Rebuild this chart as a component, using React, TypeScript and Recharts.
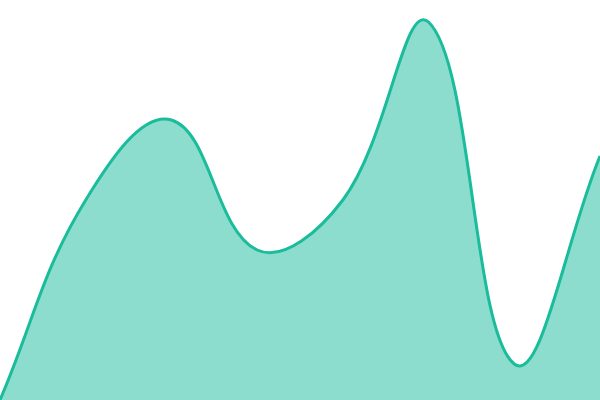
import { Area, AreaChart, XAxis, YAxis } from "recharts"

const steps = ["a", "b", "c", "d", "e", "f", "g", "h"]
const values = [0, 50, 70, 37.5, 50, 94.5, 9, 61]

const data = steps.map((name, i) => ({ name, value: values[i] }))

// distance-weighted spline with tension t (the way Chart.js bends its lines)
function spline(t: number, top: number, bottom: number) {
  return (ctx: any) => {
    let line = NaN
    let pts: [number, number][] = []
    return {
      areaStart() { line = 0 },
      areaEnd() { line = NaN },
      lineStart() { pts = [] },
      lineEnd() {
        const n = pts.length
        if (n) {
          if (line) ctx.lineTo(pts[0][0], pts[0][1])
          else ctx.moveTo(pts[0][0], pts[0][1])
        }
        const cps = pts.map((p, i) => {
          const prev = pts[i - 1] || p
          const next = pts[i + 1] || p
          const d01 = Math.hypot(p[0] - prev[0], p[1] - prev[1])
          const d12 = Math.hypot(next[0] - p[0], next[1] - p[1])
          let s01 = d01 / (d01 + d12)
          let s12 = d12 / (d01 + d12)
          if (isNaN(s01)) s01 = 0
          if (isNaN(s12)) s12 = 0
          const fa = t * s01
          const fb = t * s12
          const cap = (y: number) => Math.max(top, Math.min(bottom, y))
          return {
            px: p[0] - fa * (next[0] - prev[0]),
            py: cap(p[1] - fa * (next[1] - prev[1])),
            nx: p[0] + fb * (next[0] - prev[0]),
            ny: cap(p[1] + fb * (next[1] - prev[1])),
          }
        })
        for (let i = 1; i < n; i++) {
          ctx.bezierCurveTo(cps[i - 1].nx, cps[i - 1].ny, cps[i].px, cps[i].py, pts[i][0], pts[i][1])
        }
        if (line || (line !== 0 && n === 1)) ctx.closePath()
        line = 1 - line
      },
      point(x: number, y: number) { pts.push([+x, +y]) },
    }
  }
}

const curve = spline(0.4, 0, 400)

export default function App() {
  return (
    <div style={{ position: "fixed", top: 0, left: 0 }}>
      <AreaChart width={600} height={400} data={data} margin={{ top: 0, right: 0, left: 0, bottom: 0 }}>
        <XAxis dataKey="name" hide />
        <YAxis hide domain={[0, 100]} />
        <Area
          type={curve as any}
          dataKey="value"
          stroke="#1abc9c"
          strokeWidth={3}
          fill="#1abc9c"
          fillOpacity={0.5}
          dot={false}
          activeDot={false}
          isAnimationActive={false}
        />
      </AreaChart>
    </div>
  )
}
